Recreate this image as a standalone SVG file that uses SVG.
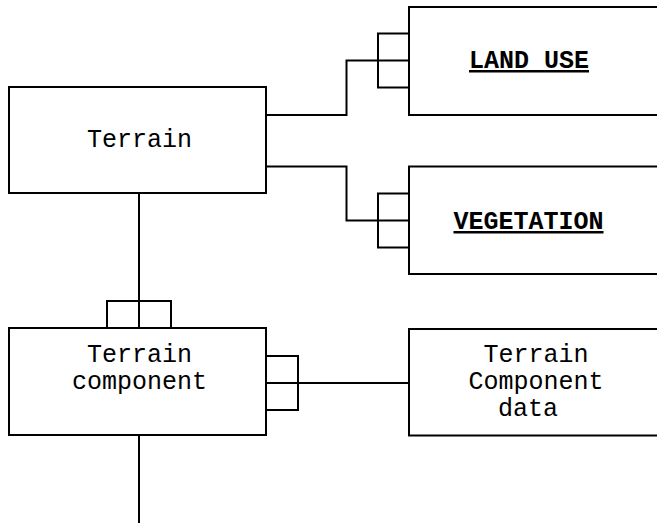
<svg xmlns="http://www.w3.org/2000/svg" width="657" height="525" viewBox="0 0 657 525">
<style>
.box{fill:#fff;stroke:#000;stroke-width:2}
.port{fill:none;stroke:#000;stroke-width:2}
.wire{fill:none;stroke:#000;stroke-width:2}
text{font-family:"Liberation Mono","Courier New",monospace;font-size:25px;fill:#000;text-anchor:middle}
.b{font-weight:bold;text-decoration:underline}
</style>
<rect width="657" height="525" fill="#fff"/>
<g id="connectors">
<path class="wire" d="M266,115 H346.5 V60.5 H409"/>
<path class="wire" d="M266,166.5 H346.5 V220.5 H409"/>
<path class="wire" d="M139,193 V328"/>
<path class="wire" d="M139,435 V523"/>
<path class="wire" d="M266,383 H409"/>
</g>
<g id="terrain">
<rect class="box" x="9" y="87" width="257" height="106"/>
<text x="139.5" y="147">Terrain</text>
</g>
<g id="land-use">
<rect class="box" x="409" y="7" width="270" height="108"/>
<rect class="port" x="378" y="33.5" width="31" height="54"/>
<text class="b" x="529" y="68">LAND USE</text>
</g>
<g id="vegetation">
<rect class="box" x="409" y="166.5" width="270" height="107.5"/>
<rect class="port" x="378" y="193.5" width="31" height="54"/>
<text class="b" x="528.5" y="229">VEGETATION</text>
</g>
<g id="terrain-component">
<rect class="box" x="9" y="328" width="257" height="107"/>
<rect class="port" x="107" y="301" width="64" height="27"/>
<rect class="port" x="266" y="356" width="32" height="54"/>
<text x="139.5" y="362">Terrain</text>
<text x="139.5" y="389">component</text>
</g>
<g id="terrain-component-data">
<rect class="box" x="409" y="329" width="270" height="106.5"/>
<text x="536" y="362">Terrain</text>
<text x="536" y="389">Component</text>
<text x="528" y="416">data</text>
</g>
</svg>
